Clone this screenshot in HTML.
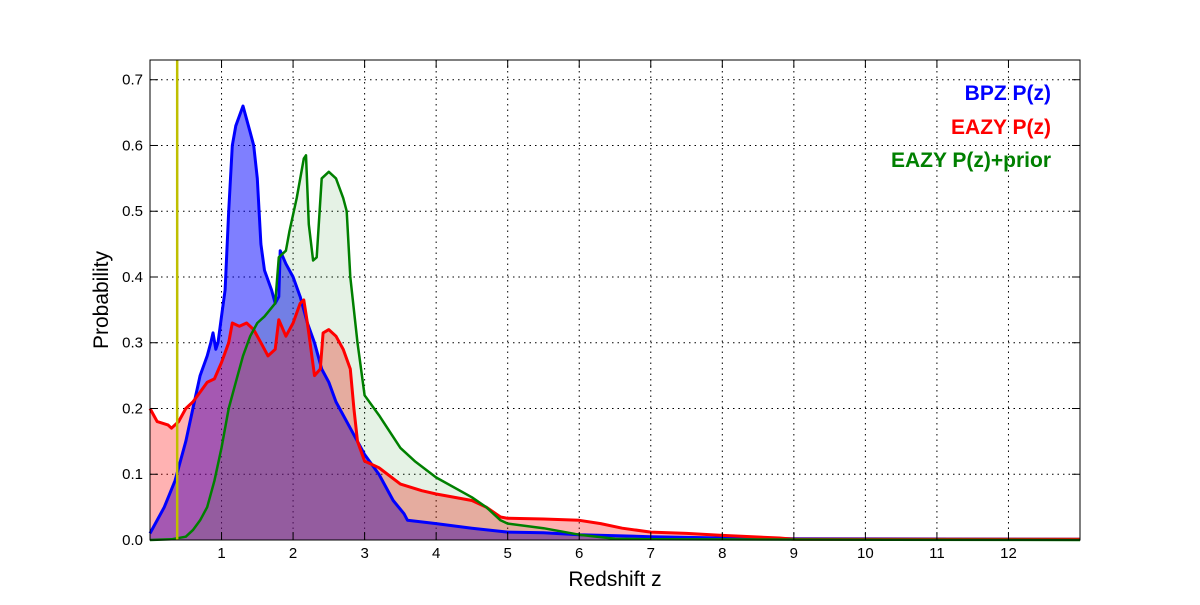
<!DOCTYPE html>
<html><head><meta charset="utf-8"><style>
body{margin:0;background:#fff;}
svg text{font-family:"Liberation Sans",sans-serif;}
</style></head><body>
<svg width="1200" height="600" xmlns="http://www.w3.org/2000/svg">
<g id="grid"></g>
<g id="fills"></g>
<g id="lines"></g>
<rect x="150" y="60" width="930" height="480" fill="none" stroke="#000" stroke-width="1"/>
<g id="ticks"></g>
<text x="615" y="586" font-size="21" text-anchor="middle">Redshift z</text>
<text x="108" y="300" font-size="21" text-anchor="middle" transform="rotate(-90 108 300)">Probability</text>
<text x="1051" y="100" font-size="21" font-weight="bold" fill="#0000ff" text-anchor="end">BPZ P(z)</text>
<text x="1051" y="134" font-size="21" font-weight="bold" fill="#ff0000" text-anchor="end">EAZY P(z)</text>
<text x="1051" y="167" font-size="21" font-weight="bold" fill="#008000" text-anchor="end">EAZY P(z)+prior</text>
</svg>
<script>
const xTicks=[1,2,3,4,5,6,7,8,9,10,11,12];
const yTicks=[0,0.1,0.2,0.3,0.4,0.5,0.6,0.7];
const yTickLabels=["0.0","0.1","0.2","0.3","0.4","0.5","0.6","0.7"];
const bpzZ=[0,0.2,0.35,0.5,0.6,0.7,0.8,0.85,0.88,0.92,0.95,1.0,1.05,1.1,1.15,1.2,1.25,1.3,1.35,1.4,1.45,1.5,1.55,1.6,1.7,1.75,1.8,1.82,1.9,2.0,2.1,2.2,2.3,2.4,2.5,2.6,2.8,3.0,3.2,3.4,3.55,3.6,4.0,4.5,5,5.5,6,7,8,9,13];
const bpzP=[0.01,0.05,0.09,0.15,0.2,0.25,0.28,0.3,0.315,0.29,0.3,0.34,0.38,0.5,0.6,0.63,0.645,0.66,0.64,0.62,0.6,0.55,0.45,0.41,0.38,0.36,0.37,0.44,0.42,0.4,0.37,0.33,0.3,0.26,0.24,0.21,0.17,0.13,0.1,0.06,0.04,0.03,0.025,0.018,0.012,0.011,0.008,0.005,0.003,0.002,0.001];
const eazyZ=[0,0.1,0.25,0.3,0.4,0.5,0.6,0.7,0.8,0.9,1.0,1.1,1.15,1.25,1.35,1.45,1.55,1.65,1.75,1.8,1.9,2.0,2.1,2.15,2.2,2.3,2.38,2.42,2.5,2.6,2.7,2.8,2.85,2.9,3.0,3.2,3.5,3.8,4.0,4.5,4.7,4.9,5,5.5,6,6.3,6.6,7,7.5,8,8.8,9,13];
const eazyP=[0.2,0.18,0.175,0.17,0.18,0.2,0.21,0.225,0.24,0.245,0.27,0.3,0.33,0.325,0.33,0.32,0.3,0.28,0.29,0.335,0.31,0.33,0.36,0.365,0.33,0.25,0.26,0.315,0.32,0.31,0.29,0.26,0.2,0.15,0.12,0.11,0.085,0.075,0.07,0.06,0.05,0.035,0.033,0.032,0.03,0.025,0.018,0.012,0.01,0.007,0.003,0.001,0.001];
const priorZ=[0,0.3,0.5,0.6,0.7,0.8,0.9,1.0,1.1,1.2,1.3,1.4,1.5,1.6,1.75,1.8,1.9,1.95,2.05,2.15,2.18,2.22,2.28,2.33,2.4,2.5,2.6,2.7,2.75,2.8,2.9,3.0,3.2,3.5,3.7,4,4.5,4.7,4.9,5,5.5,6,6.5,7,13];
const priorP=[0,0.001,0.005,0.015,0.03,0.05,0.09,0.14,0.2,0.24,0.28,0.31,0.33,0.34,0.36,0.43,0.44,0.47,0.52,0.58,0.585,0.48,0.425,0.43,0.55,0.56,0.55,0.52,0.5,0.4,0.3,0.22,0.19,0.14,0.12,0.095,0.065,0.05,0.03,0.025,0.018,0.008,0.002,0.001,0];
const priorLineZ=[0.38];
const NS="http://www.w3.org/2000/svg";
const X=z=>150+z*930/13, Y=p=>540-p*480/0.73;
function mk(tag,attrs,parent){const e=document.createElementNS(NS,tag);for(const k in attrs)e.setAttribute(k,attrs[k]);document.getElementById(parent).appendChild(e);return e;}
xTicks.forEach(t=>{
 let g=mk('line',{x1:X(t),x2:X(t),y1:60,y2:540,stroke:'#000','stroke-dasharray':'1.5,4','stroke-width':1},'grid');
 
 let a=mk('line',{x1:X(t),x2:X(t),y1:540,y2:532,stroke:'#000'},'ticks');
 
 let b=mk('line',{x1:X(t),x2:X(t),y1:60,y2:68,stroke:'#000'},'ticks');
 
 let l=mk('text',{x:X(t),y:558,'font-size':15,'text-anchor':'middle'},'ticks');l.textContent=t;
 
});
yTicks.forEach((t,i)=>{
 let g=mk('line',{x1:150,x2:1080,y1:Y(t),y2:Y(t),stroke:'#000','stroke-dasharray':'1.5,4','stroke-width':1},'grid');
 
 let a=mk('line',{x1:150,x2:158,y1:Y(t),y2:Y(t),stroke:'#000'},'ticks');
 
 let b=mk('line',{x1:1072,x2:1080,y1:Y(t),y2:Y(t),stroke:'#000'},'ticks');
 
 let l=mk('text',{x:143,y:Y(t)+5,'font-size':15,'text-anchor':'end'},'ticks');l.textContent=yTickLabels[i];
 
});
function pts(zs,ps){return zs.map((z,i)=>X(z).toFixed(1)+','+Y(ps[i]).toFixed(1)).join(' ');}
function series(zs,ps,fill,stroke,w,name){
 const p=pts(zs,ps);
 let f=mk('polygon',{points:X(zs[0])+','+Y(0)+' '+p+' '+X(zs[zs.length-1])+','+Y(0),fill:fill,stroke:'none'},'fills');
 
 let l=mk('polyline',{points:p,fill:'none',stroke:stroke,'stroke-width':w,'stroke-linejoin':'round'},'lines');
 
}
series(bpzZ,bpzP,'rgba(0,0,255,0.5)','#0000ff',3,'bpz');
series(eazyZ,eazyP,'rgba(255,0,0,0.3)','#ff0000',3,'eazy');
series(priorZ,priorP,'rgba(0,128,0,0.1)','#008000',2.5,'eazy-prior');
priorLineZ.forEach(z=>{
 let v=mk('line',{x1:X(z),x2:X(z),y1:60,y2:540,stroke:'#bfbf00','stroke-width':2.5},'lines');
 
});
</script>
</body></html>
